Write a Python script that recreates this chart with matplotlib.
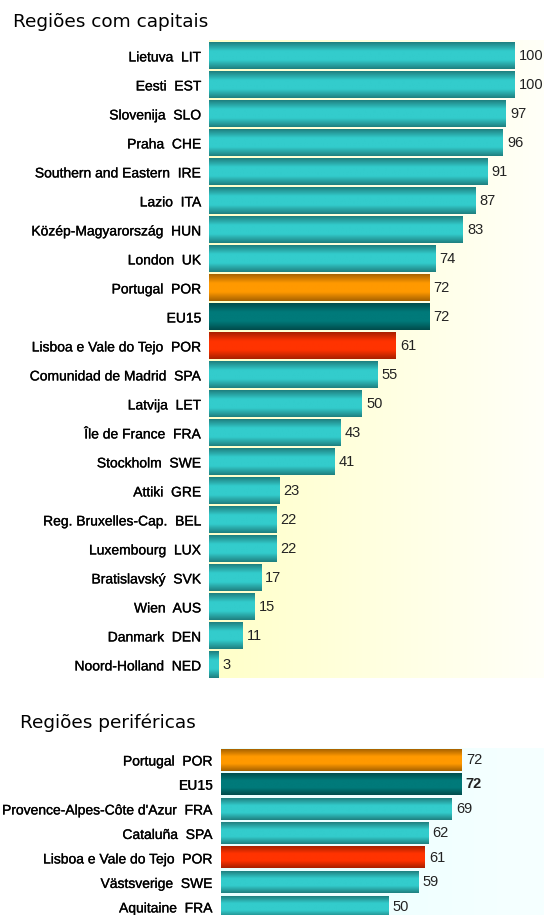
import matplotlib.pyplot as plt
from matplotlib.colors import LinearSegmentedColormap
import matplotlib.patheffects as pe
import numpy as np

# Dados
cap_labels = ["Lietuva  LIT", "Eesti  EST", "Slovenija  SLO", "Praha  CHE",
              "Southern and Eastern  IRE", "Lazio  ITA", "Közép-Magyarország  HUN",
              "London  UK", "Portugal  POR", "EU15", "Lisboa e Vale do Tejo  POR",
              "Comunidad de Madrid  SPA", "Latvija  LET", "Île de France  FRA",
              "Stockholm  SWE", "Attiki  GRE", "Reg. Bruxelles-Cap.  BEL",
              "Luxembourg  LUX", "Bratislavský  SVK", "Wien  AUS", "Danmark  DEN",
              "Noord-Holland  NED"]
cap_values = [100, 100, 97, 96, 91, 87, 83, 74, 72, 72, 61, 55, 50, 43, 41,
              23, 22, 22, 17, 15, 11, 3]

per_labels = ["Portugal  POR", "EU15", "Provence-Alpes-Côte d'Azur  FRA",
              "Cataluña  SPA", "Lisboa e Vale do Tejo  POR", "Västsverige  SWE",
              "Aquitaine  FRA"]
per_values = [72, 72, 69, 62, 61, 59, 50]

W, H = 544, 915
fig = plt.figure(figsize=(W / 100, H / 100), dpi=100)

thick = [pe.withStroke(linewidth=0.2, foreground='black')]


def bar_cmap(label):
    if label.startswith("Portugal"):
        edge, mid = '#a86200', '#ff9900'
    elif label == "EU15":
        edge, mid = '#004c4c', '#007a7a'
    elif label.startswith("Lisboa"):
        edge, mid = '#a82000', '#ff3300'
    else:
        edge, mid = '#1f8080', '#33cccc'
    return LinearSegmentedColormap.from_list('g', [edge, mid, mid, edge])


def panel(rect, labels, values, xmax, ylo, yhi, bg, bar_h, pad, bold_eu=False):
    ax = fig.add_axes(rect)
    grad = np.linspace(0, 1, 256).reshape(1, -1)
    ax.imshow(grad, extent=(0, 1, 0, 1), transform=ax.transAxes, aspect='auto',
              cmap=LinearSegmentedColormap.from_list('bg', bg), zorder=0)
    vg = np.linspace(0, 1, 64).reshape(-1, 1)
    for i, (lab, v) in enumerate(zip(labels, values)):
        ax.imshow(vg, extent=(0, v, i + bar_h / 2, i - bar_h / 2), aspect='auto',
                  cmap=bar_cmap(lab), zorder=2, interpolation='bilinear')
        wt = 'bold' if (bold_eu and lab == "EU15") else 'normal'
        ax.annotate(str(v), (v, i), xytext=(3, 0), textcoords='offset points',
                    va='center', ha='left', fontsize=10.5, color='#222222',
                    family='Liberation Sans', fontweight=wt, zorder=3)
    ax.set_yticks(range(len(labels)))
    ax.set_yticklabels(labels, fontsize=10, family='Liberation Sans')
    for t in ax.get_yticklabels():
        if bold_eu and t.get_text() == "EU15":
            t.set_fontweight('bold')
        else:
            t.set_path_effects(thick)
    ax.tick_params(axis='y', length=0, pad=pad)
    ax.set_xticks([])
    ax.set_xlim(0, xmax)
    ax.set_ylim(yhi, ylo)
    for s in ax.spines.values():
        s.set_visible(False)
    return ax


# Painel superior
panel([209 / W, 1 - 678 / H, (W - 209) / W, 638 / H], cap_labels, cap_values,
      xmax=335 / 3.06, ylo=-0.55, yhi=21.45, bg=['#ffffc8', '#fffff8'],
      bar_h=0.9, pad=5.5)

# Painel inferior
panel([221 / W, 0, (W - 221) / W, 167 / H], per_labels, per_values,
      xmax=323 / 3.343, ylo=-0.49, yhi=6.33, bg=['#e8ffff', '#f6ffff'],
      bar_h=0.86, pad=6, bold_eu=True)

fig.text(13 / W, 1 - 22 / H, "Regiões com capitais", fontsize=13.3, va='center',
         ha='left', color='black')
fig.text(20 / W, 1 - 723 / H, "Regiões periféricas", fontsize=13.3, va='center',
         ha='left', color='black')

fig.savefig('out.png', dpi=100)
